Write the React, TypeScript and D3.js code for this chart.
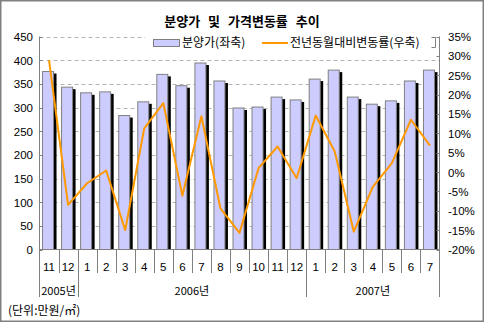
import React from "react";
import * as d3 from "d3";

const months = ["11","12","1","2","3","4","5","6","7","8","9","10","11","12","1","2","3","4","5","6","7"];
const prices = [376,343,331,333,283,312,370,346,394,356,299,301,322,316,360,379,322,307,314,356,379];
const changes = [28.9,-8.5,-2.9,0.4,-15.0,11.3,17.8,-6.1,14.4,-9.4,-15.7,1.0,6.6,-1.6,14.6,5.3,-15.4,-3.8,2.3,13.5,6.8];
const leftTicks = [0,50,100,150,200,250,300,350,400,450];
const rightTicks = [-20,-15,-10,-5,0,5,10,15,20,25,30,35];
const years = [
  { label: "2005년", from: 0, to: 2 },
  { label: "2006년", from: 2, to: 14 },
  { label: "2007년", from: 14, to: 21 },
];
const title = "분양가 및 가격변동률 추이";
const legendBar = "분양가(좌축)";
const legendLine = "전년동월대비변동률(우축)";
const unitText = "(단위:만원/㎡)";

const W = 484, H = 322;
const L = 39.5, R = 439.5, T = 36.5, B = 249.5;
const KR = "'Noto Sans CJK KR', 'Noto Sans', sans-serif";
const NUM = "'Liberation Sans', Arial, sans-serif";

export default function App() {
  const idx = months.map((_, i) => i);
  const x = d3.scaleBand<number>().domain(idx).range([L, R]).paddingInner(0).paddingOuter(0);
  const bw = x.bandwidth();
  const yL = d3.scaleLinear().domain([0, 450]).range([B, T]);
  const yR = d3.scaleLinear().domain([-20, 35]).range([B, T]);
  const cx = (i: number) => (x(i) as number) + bw / 2;
  const line = d3.line<number>().x((_, i) => cx(i)).y((d) => yR(d));
  const barW = 11;

  return (
    <svg width={W} height={H} style={{ position: "absolute", left: 0, top: 0, background: "#fff" }}>
      <rect x={0.75} y={0.75} width={W - 1.5} height={H - 1.5} fill="#fff" stroke="#808080" strokeWidth={1.5} />
      <text x={242} y={26} textAnchor="middle" fontFamily={KR} fontSize={13} fontWeight="bold" wordSpacing={5} fill="#000">{title}</text>

      {/* gridlines */}
      {leftTicks.filter((t) => t > 0).map((t) => (
        <line key={"g" + t} x1={L} x2={R} y1={Math.round(yL(t)) + 0.5} y2={Math.round(yL(t)) + 0.5} stroke="#b4b4b4" strokeDasharray="4,3" />
      ))}

      {/* bars */}
      {prices.map((v, i) => {
        const bx = cx(i) - 6.5;
        return (
          <g key={"b" + i}>
            <rect x={bx + 3} y={yL(v) + 2} width={barW} height={B - yL(v) - 2} fill="#000" />
            <rect x={bx} y={yL(v)} width={barW} height={B - yL(v)} fill="#ccccff" stroke="#808080" strokeWidth={1} />
          </g>
        );
      })}

      {/* line */}
      <path d={line(changes) || ""} fill="none" stroke="#ff9900" strokeWidth={2} strokeLinejoin="round" />

      {/* axes */}
      <line x1={L} x2={L} y1={T} y2={297} stroke="#808080" />
      <line x1={R} x2={R} y1={T} y2={297} stroke="#808080" />
      <line x1={L} x2={R} y1={B} y2={B} stroke="#808080" />
      {leftTicks.map((t) => (
        <g key={"lt" + t}>
          <line x1={L} x2={L + 3} y1={Math.round(yL(t)) + 0.5} y2={Math.round(yL(t)) + 0.5} stroke="#808080" />
          <text x={33} y={yL(t) + 4.5} textAnchor="end" fontFamily={NUM} fontSize={11.5} fill="#000">{t}</text>
        </g>
      ))}
      {rightTicks.map((t) => (
        <g key={"rt" + t}>
          <line x1={R - 3} x2={R} y1={Math.round(yR(t)) + 0.5} y2={Math.round(yR(t)) + 0.5} stroke="#808080" />
          <text x={448} y={yR(t) + 4.5} textAnchor="start" fontFamily={NUM} fontSize={11.5} fill="#000">{t + "%"}</text>
        </g>
      ))}

      {/* category separators and labels */}
      {idx.slice(1).map((i) => {
        const xx = Math.round(x(i) as number) + 0.5;
        const isYear = years.some((y) => y.from === i);
        return <line key={"s" + i} x1={xx} x2={xx} y1={B} y2={isYear ? 297 : 273} stroke="#808080" />;
      })}
      {months.map((m, i) => (
        <text key={"m" + i} x={cx(i)} y={271} textAnchor="middle" fontFamily={NUM} fontSize={11.5} fill="#000">{m}</text>
      ))}
      {years.map((y) => {
        const x0 = x(y.from) as number;
        const x1 = y.to >= months.length ? R : (x(y.to) as number);
        return (
          <text key={y.label} x={(x0 + x1) / 2} y={295} textAnchor="middle" fontFamily={KR} fontSize={11} fill="#000">{y.label}</text>
        );
      })}
      <text x={8} y={315} fontFamily={KR} fontSize={12} fill="#000">{unitText}</text>

      {/* legend */}
      <rect x={145} y={33} width={291} height={16} fill="#fff" />
      <path d="M431.5,37.5 H435.5 V47.5 H431.5" fill="none" stroke="#808080" />
      <rect x={153.5} y={39.5} width={26} height={7} fill="#ccccff" stroke="#808080" />
      <text x={182} y={47} fontFamily={KR} fontSize={12} fill="#000">{legendBar}</text>
      <line x1={262} x2={288} y1={43} y2={43} stroke="#ff9900" strokeWidth={2} />
      <text x={290} y={47} fontFamily={KR} fontSize={12} fill="#000">{legendLine}</text>
    </svg>
  );
}
